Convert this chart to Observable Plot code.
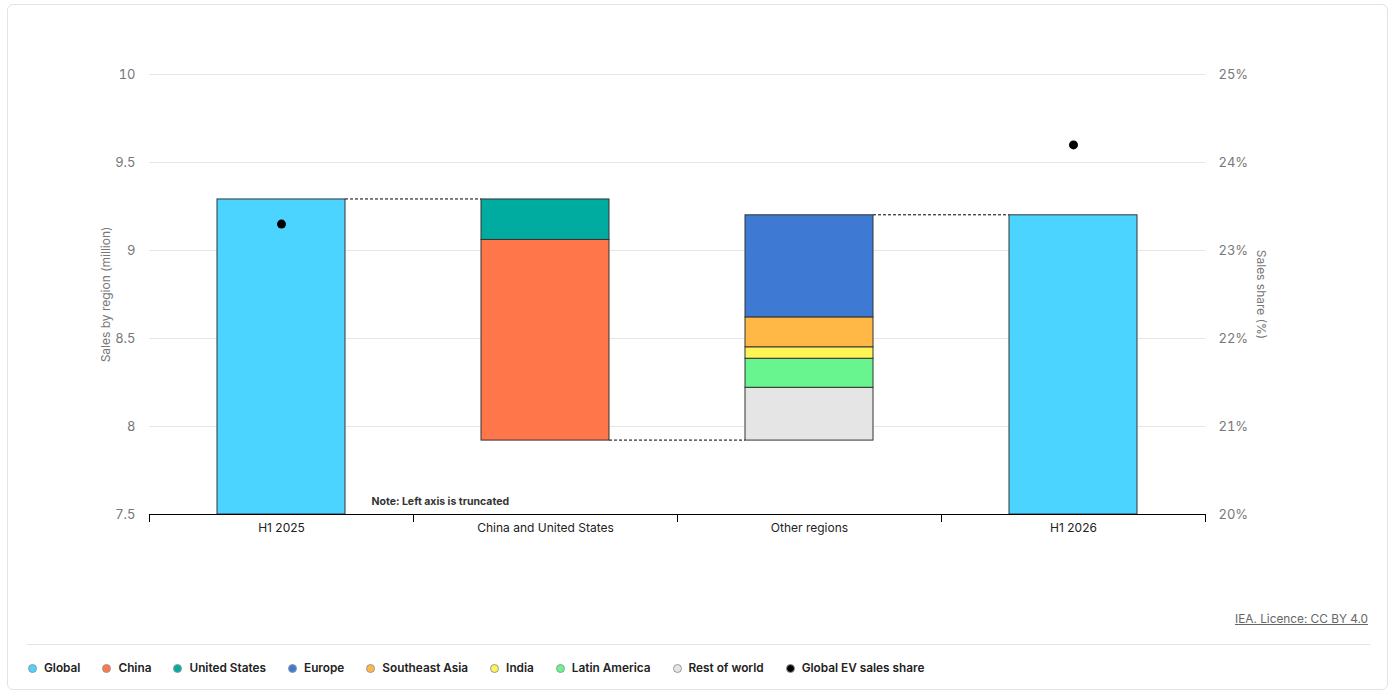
<!DOCTYPE html>
<html>
<head>
<meta charset="utf-8">
<script src="https://cdn.jsdelivr.net/npm/d3@7"></script>
<script src="https://cdn.jsdelivr.net/npm/@observablehq/plot@0.6"></script>
<style>
  html, body { margin: 0; padding: 0; background: #fff; }
  body { width: 1398px; height: 696px; position: relative; overflow: hidden; font-family: Inter, "Noto Sans", sans-serif; }
  #card { position: absolute; left: 7px; top: 4px; width: 1381px; height: 686px; border: 1px solid #e3e3e3; border-radius: 6px; box-sizing: border-box; }
  #chart { position: absolute; left: 0; top: 0; }
  #credit { position: absolute; right: 30px; top: 612px; font-size: 11.8px; color: #666; text-decoration: underline; }
  #sep { position: absolute; left: 27px; width: 1343px; top: 644px; border-top: 1px solid #e3e3e3; }
  #legend { position: absolute; left: 28px; top: 661px; display: flex; gap: 22px; font-size: 11.8px; font-weight: 600; color: #222; }
  #legend .item { display: flex; align-items: center; gap: 7px; }
  #legend .sw { width: 9px; height: 9px; border-radius: 50%; border: 1px solid #999; box-sizing: border-box; }
</style>
</head>
<body>
<div id="card"></div>
<div id="chart"></div>
<div id="credit">IEA. Licence: CC BY 4.0</div>
<div id="sep"></div>
<div id="legend"></div>
<script>
// ---- data ----
const categories = ["H1 2025", "China and United States", "Other regions", "H1 2026"];
const seriesNames = ["Global", "China", "United States", "Europe", "Southeast Asia", "India", "Latin America", "Rest of world"];
const seriesColors = ["#4ad4ff", "#ff764a", "#00ab9f", "#3e7ad3", "#ffb845", "#fff456", "#68f590", "#e5e5e5"];

// stacked/floating segments (million)
const segCategory = ["H1 2025", "China and United States", "China and United States", "Other regions", "Other regions", "Other regions", "Other regions", "Other regions", "H1 2026"];
const segSeries   = ["Global", "China", "United States", "Rest of world", "Latin America", "India", "Southeast Asia", "Europe", "Global"];
const segLow      = [7.5, 7.92, 9.06, 7.92, 8.22, 8.385, 8.45, 8.62, 7.5];
const segHigh     = [9.29, 9.06, 9.29, 8.22, 8.385, 8.45, 8.62, 9.20, 9.20];

// connectors between bars
const connFrom  = ["H1 2025", "China and United States", "Other regions"];
const connTo    = ["China and United States", "Other regions", "H1 2026"];
const connLevel = [9.29, 7.92, 9.20];

// global EV sales share (%)
const shareCategories = ["H1 2025", "H1 2026"];
const shareValues = [23.3, 24.2];

const leftTicks = [7.5, 8, 8.5, 9, 9.5, 10];
const shareTicks = [20, 21, 22, 23, 24, 25];

// ---- mapping share to left axis ----
const toLeft = s => 7.5 + (s - 20) * 0.5;
const fromLeft = v => Math.round((v - 7.5) * 2 + 20);

const segments = segCategory.map((c, i) => ({ category: c, series: segSeries[i], low: segLow[i], high: segHigh[i] }));
const connectors = connFrom.map((c, i) => ({ from: c, to: connTo[i], level: connLevel[i] }));
const shares = shareCategories.map((c, i) => ({ category: c, value: toLeft(shareValues[i]) }));

const W = 1398, ML = 149, MR = 193;
const step = (W - ML - MR) / categories.length;
const padInner = 0.515;

// custom mark: dashed connectors from right edge of one bar to left edge of the next
function connectorMark(index, scales) {
  const g = d3.create("svg:g");
  const x = scales.x, y = scales.y, bw = x.bandwidth ? x.bandwidth() : 0;
  connectors.forEach(c => {
    g.append("line")
      .attr("x1", x(c.from) + bw).attr("x2", x(c.to))
      .attr("y1", y(c.level)).attr("y2", y(c.level))
      .attr("stroke", "#000").attr("stroke-width", 1).attr("stroke-dasharray", "3,2");
  });
  return g.node();
}

const chart = Plot.plot({
  width: W,
  height: 560,
  marginLeft: ML,
  marginRight: MR,
  marginTop: 74,
  marginBottom: 46,
  style: { fontFamily: "Inter, 'Noto Sans', sans-serif", fontSize: "12px", color: "#333", background: "transparent" },
  x: { domain: categories, paddingInner: padInner, paddingOuter: padInner / 2, align: 0.5, axis: null, label: null },
  y: { domain: [7.5, 10], axis: null, label: null },
  color: { domain: seriesNames, range: seriesColors },
  marks: [
    Plot.ruleY(leftTicks.slice(1), { stroke: "#e6e6e6", strokeWidth: 1 }),
    Plot.axisY(leftTicks, { anchor: "left", tickSize: 0, tickPadding: 14, fill: "#777", fontSize: 13, label: null, tickFormat: d => String(d) }),
    Plot.axisY(shareTicks.map(toLeft), { anchor: "right", tickSize: 0, tickPadding: 13, fill: "#777", fontSize: 13, label: null, tickFormat: d => fromLeft(d) + "%" }),
    Plot.text(["Sales by region (million)"], { frameAnchor: "left", dx: -43, rotate: -90, textAnchor: "middle", fill: "#777", fontSize: 12 }),
    Plot.text(["Sales share (%)"], { frameAnchor: "right", dx: 55, rotate: 90, textAnchor: "middle", fill: "#777", fontSize: 12 }),
    connectorMark,
    Plot.barY(segments, { x: "category", y1: "low", y2: "high", fill: "series", stroke: "#333", strokeWidth: 1 }),
    Plot.dot(shares, { x: "category", y: "value", r: 4.5, fill: "#000" }),
    Plot.ruleY([7.5], { stroke: "#000", strokeWidth: 1 }),
    Plot.axisX(categories, { anchor: "bottom", tickSize: 8, text: null, label: null, dx: -step / 2, stroke: "#000" }),
    Plot.axisX(categories.slice(-1), { anchor: "bottom", tickSize: 8, text: null, label: null, dx: step / 2, stroke: "#000" }),
    Plot.axisX(categories, { anchor: "bottom", tickSize: 0, tickPadding: 9, fill: "#222", fontSize: 12, label: null }),
    Plot.text(["Note: Left axis is truncated"], { frameAnchor: "bottom-left", dx: 222, dy: -10, textAnchor: "start", fontWeight: "bold", fontSize: 10.5, fill: "#333" })
  ]
});
document.getElementById("chart").appendChild(chart);

// legend
const legend = document.getElementById("legend");
const legendItems = seriesNames.map((n, i) => ({ name: n, color: seriesColors[i] })).concat([{ name: "Global EV sales share", color: "#000" }]);
legendItems.forEach(it => {
  const d = document.createElement("div");
  d.className = "item";
  const s = document.createElement("span");
  s.className = "sw";
  s.style.background = it.color;
  const t = document.createElement("span");
  t.textContent = it.name;
  d.appendChild(s); d.appendChild(t);
  legend.appendChild(d);
});
</script>
</body>
</html>
